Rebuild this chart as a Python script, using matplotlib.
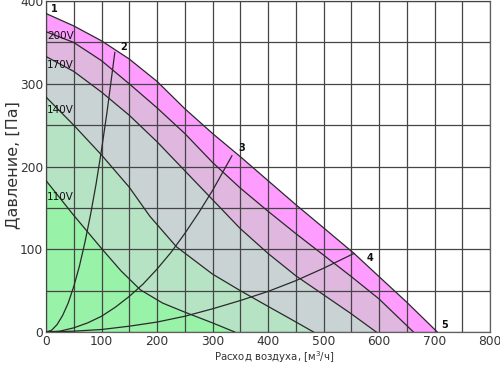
import matplotlib
matplotlib.use("Agg")
import matplotlib.pyplot as plt
from matplotlib.ticker import MultipleLocator

# Fan curves (Q in m3/h, P in Pa)
q_max = [0, 50, 100, 150, 200, 250, 300, 350, 400, 450, 500, 555, 600, 650, 705]
p_max = [385, 370, 352, 330, 303, 270, 240, 212, 183, 154, 126, 95, 67, 36, 0]

q_200 = [0, 50, 100, 150, 200, 250, 300, 350, 400, 450, 500, 550, 600, 662]
p_200 = [363, 350, 328, 300, 271, 240, 205, 174, 146, 119, 93, 67, 40, 0]

q_170 = [0, 50, 100, 150, 200, 250, 300, 350, 400, 450, 500, 550, 595]
p_170 = [333, 315, 290, 262, 230, 195, 160, 125, 95, 68, 45, 22, 0]

q_140 = [0, 50, 100, 150, 187, 235, 300, 350, 400, 440, 482]
p_140 = [284, 250, 214, 175, 140, 103, 70, 50, 31, 16, 0]

q_110 = [0, 50, 100, 135, 170, 210, 250, 300, 340]
p_110 = [183, 141, 101, 74, 51, 35, 24, 11, 0]

# System curves
q_s2 = [0, 10, 20, 30, 40, 50, 60, 70, 80, 90, 100, 110, 124]
p_s2 = [0, 2, 9, 20, 35, 55, 79, 108, 141, 178, 220, 266, 338]
q_s3 = [0, 25, 50, 75, 100, 125, 150, 175, 200, 225, 250, 275, 300, 335]
p_s3 = [0, 1, 5, 11, 19, 30, 43, 58, 76, 96, 119, 144, 171, 213]
q_s4 = [0, 50, 100, 150, 200, 250, 300, 350, 400, 450, 500, 555]
p_s4 = [0, 1, 3, 7, 12, 19, 28, 38, 49, 62, 77, 95]

voltage_labels = ["200V", "170V", "140V", "110V"]
voltage_label_pos = [(2, 358), (2, 323), (2, 268), (2, 163)]
point_labels = ["1", "2", "3", "4", "5"]
point_label_pos = [(8, 391), (134, 345), (346, 222), (577, 90), (712, 9)]

fig = plt.figure(figsize=(5, 3.67), dpi=100)
ax = fig.add_axes([0.092, 0.0954, 0.888, 0.9016])

fills = [
    (q_max, p_max, "#ff9cff"),
    (q_200, p_200, "#dfb7df"),
    (q_170, p_170, "#c9d3d3"),
    (q_140, p_140, "#b6e3c3"),
    (q_110, p_110, "#98f2a8"),
]
for q, p, c in fills:
    ax.fill_between(q, p, 0, color=c, linewidth=0, zorder=1)

for q, p in [(q_max, p_max), (q_200, p_200), (q_170, p_170), (q_140, p_140), (q_110, p_110),
             (q_s2, p_s2), (q_s3, p_s3), (q_s4, p_s4)]:
    ax.plot(q, p, color="#2a2a2a", linewidth=0.9, zorder=3)

for t, (x, y) in zip(voltage_labels, voltage_label_pos):
    ax.text(x, y, t, fontsize=7.5, ha="left", va="center", color="#111111", zorder=4)
for t, (x, y) in zip(point_labels, point_label_pos):
    ax.text(x, y, t, fontsize=7, fontweight="bold", ha="left", va="center", color="#111111", zorder=4)

ax.set_xlim(0, 800)
ax.set_ylim(0, 400)
ax.xaxis.set_major_locator(MultipleLocator(100))
ax.xaxis.set_minor_locator(MultipleLocator(50))
ax.yaxis.set_major_locator(MultipleLocator(100))
ax.yaxis.set_minor_locator(MultipleLocator(50))
ax.grid(True, which="both", color="#454545", linewidth=0.9)
ax.set_axisbelow(False)
ax.tick_params(which="both", length=0, labelsize=8.8, colors="#333333", pad=2)
for s in ax.spines.values():
    s.set_color("#606060")
    s.set_linewidth(0.9)

fig.text(0.548, 0.028, "Расход воздуха, [м$^3$/ч]", fontsize=7.3, color="#333333",
         ha="center", va="center")
fig.text(0.026, 0.55, "Давление, [Па]", fontsize=11.5, color="#333333",
         ha="center", va="center", rotation=90)

fig.savefig("out.png", dpi=100)
